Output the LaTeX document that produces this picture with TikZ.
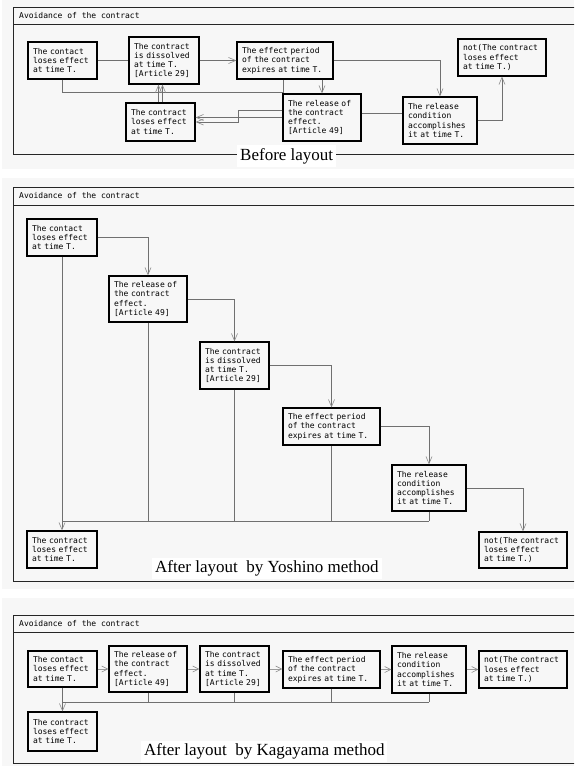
\documentclass[tikz,border=0pt]{standalone}
\usepackage{fontspec}
\newfontfamily\boxfont{DejaVu Sans Mono}
\newfontfamily\capfont{Liberation Serif}
\usetikzlibrary{arrows.meta,calc}
\definecolor{panelbg}{HTML}{F7F7F7}
\definecolor{wiregray}{HTML}{707070}
\definecolor{tipgray}{HTML}{8C8C8C}
\definecolor{faintgray}{HTML}{9A9A9A}
\tikzset{
  lbox/.style={draw=black, line width=1.3pt, fill=panelbg, inner xsep=5pt, inner ysep=0pt,
    align=left, font=\boxfont\fontsize{8}{9.3}\selectfont},
  wire/.style={draw=wiregray, line width=0.8pt},
  tipped/.style={wire, -{Straight Barb[length=7pt,width=6pt,line width=0.6pt,color=tipgray]}},
  shorttip/.style={draw=faintgray, line width=0.8pt, -{Straight Barb[length=6pt,width=6pt,line width=0.6pt,color=tipgray]}},
  frame/.style={draw=black!85, line width=0.9pt},
  titletext/.style={font=\boxfont\fontsize{8}{9.3}\selectfont, anchor=west, inner sep=0pt},
  caption/.style={font=\capfont\fontsize{17}{20}\selectfont, fill=white, anchor=base west,
    inner xsep=3pt, inner ysep=3pt}
}
% box given by its corners (x1,y1) and (x2,y2), y measured downwards
\newcommand\lawbox[6]{%
  \pgfmathsetmacro\lbw{#4-#2}\pgfmathsetmacro\lbh{#5-#3}\pgfmathsetmacro\lbt{#4-#2-10}%
  \node[lbox, minimum width=\lbw pt, minimum height=\lbh pt, text width=\lbt pt]
    (#1) at ({(#2+#4)/2},{(#3+#5)/2}) {#6};}
\begin{document}
\begin{tikzpicture}[x=1pt,y=-1pt]
\useasboundingbox (0,0) rectangle (574,766);
\clip (0,0) rectangle (574,766);

% ---------------- panel 1 ----------------
\fill[panelbg] (2,0) rectangle (574,169);
\draw[frame] (580,7) -- (13,7) -- (13,154) -- (580,154);
\draw[frame] (13,24) -- (580,24);
\node[titletext] (t1) at (19,16) {Avoidance of the contract};

\lawbox{A1}{28}{42}{97}{79}{The contact\\loses effect\\at time T.}
\lawbox{B1}{129}{37}{199}{84}{The contract\\is dissolved\\at time T.\\{[Article 29]}}
\lawbox{C1}{237}{42}{333}{79}{The effect period\\of the contract\\expires at time T.}
\lawbox{D1}{126}{103}{195}{141}{The contract\\loses effect\\at time T.}
\lawbox{E1}{283}{94}{361}{141}{The release of\\the contract\\effect.\\{[Article 49]}}
\lawbox{F1}{403}{97}{477}{144}{The release\\condition\\accomplishes\\it at time T.}
\lawbox{G1}{458}{39}{546}{76}{not(The contract\\loses effect\\at time T.)}

\draw[wire] (A1.east) -- (B1.west);
\draw[tipped] (B1.east) -- (C1.west);
\draw[wire] (A1.south) |- ($(C1.south west)+(47,13)$) -- ($(C1.south west)+(47,0)$);
\draw[tipped] ($(D1.north)+(-2,0)$) -- ($(D1.north |- B1.south)+(-2,0)$);
\draw[tipped] ($(D1.north)+(2,0)$) -- ($(D1.north |- B1.south)+(2,0)$);
\draw[tipped] (E1.west) -- (E1.west -| D1.east);
\draw[tipped] ($(E1.west)+(0,-7.5)$) -| ($(D1.east)+(43,0)$) -- (D1.east);
\draw[tipped] (E1.north |- C1.south) -- (E1.north);
\draw[tipped] (C1.east) -| (F1.north);
\coordinate (ef) at ($(E1.east)+(0,-4.5)$);
\draw[wire] (ef) -- (ef -| F1.west);
\draw[tipped] (F1.east) -| (G1.south);

\node[caption] (cap1) at (237,160) {Before layout};

% ---------------- panel 2 ----------------
\fill[panelbg] (2,178) rectangle (574,589);
\draw[frame] (580,187) -- (13,187) -- (13,581) -- (580,581);
\draw[frame] (13,205) -- (580,205);
\node[titletext] (t2) at (19,196) {Avoidance of the contract};

\lawbox{A2}{27}{219}{97}{256}{The contact\\loses effect\\at time T.}
\lawbox{E2}{109}{276}{187}{322}{The release of\\the contract\\effect.\\{[Article 49]}}
\lawbox{B2}{200}{342}{269}{389}{The contract\\is dissolved\\at time T.\\{[Article 29]}}
\lawbox{C2}{283}{408}{380}{445}{The effect period\\of the contract\\expires at time T.}
\lawbox{F2}{392}{465}{466}{511}{The release\\condition\\accomplishes\\it at time T.}
\lawbox{G2}{479}{532}{567}{568}{not(The contract\\loses effect\\at time T.)}
\lawbox{D2}{27}{531}{97}{568}{The contract\\loses effect\\at time T.}

\draw[tipped] (A2.east) -| (E2.north);
\draw[tipped] (E2.east) -| (B2.north);
\draw[tipped] (B2.east) -| (C2.north);
\draw[tipped] (C2.east) -| (F2.north);
\draw[tipped] (F2.east) -| (G2.north);
\coordinate (bus2) at (0,521);
\draw[tipped] (A2.south) -- (D2.north);
\draw[wire] (A2.south |- bus2) -- (F2.south |- bus2);
\foreach \n in {E2,B2,C2,F2} \draw[wire] (\n.south) -- (\n.south |- bus2);

\node[caption] (cap2) at (152,572.7) {After layout\ \ by Yoshino method};

% ---------------- panel 3 ----------------
\fill[panelbg] (2,598) rectangle (574,766);
\draw[frame] (580,615) -- (13,615) -- (13,763) -- (580,763);
\draw[frame] (13,632) -- (580,632);
\node[titletext] (t3) at (19,624) {Avoidance of the contract};

\lawbox{A3}{28}{651}{97}{687}{The contact\\loses effect\\at time T.}
\lawbox{E3}{109}{646}{187}{692}{The release of\\the contract\\effect.\\{[Article 49]}}
\lawbox{B3}{200}{646}{269}{692}{The contract\\is dissolved\\at time T.\\{[Article 29]}}
\lawbox{C3}{283}{651}{380}{688}{The effect period\\of the contract\\expires at time T.}
\lawbox{F3}{392}{646}{466}{693}{The release\\condition\\accomplishes\\it at time T.}
\lawbox{G3}{479}{651}{567}{688}{not(The contract\\loses effect\\at time T.)}
\lawbox{D3}{28}{712}{97}{751}{The contract\\loses effect\\at time T.}

\draw[shorttip] (A3.east) -- (A3.east -| E3.west);
\draw[shorttip] (E3.east) -- (E3.east -| B3.west);
\draw[shorttip] (B3.east) -- (B3.east -| C3.west);
\draw[shorttip] (C3.east) -- (C3.east -| F3.west);
\draw[shorttip] (F3.east) -- (F3.east -| G3.west);
\coordinate (bus3) at (0,702);
\draw[tipped] (A3.south) -- (D3.north);
\draw[wire] (A3.south |- bus3) -- (F3.south |- bus3);
\foreach \n in {E3,B3,C3,F3} \draw[wire] (\n.south) -- (\n.south |- bus3);

\node[caption] (cap3) at (141,755.7) {After layout\ \ by Kagayama method};
\end{tikzpicture}
\end{document}
